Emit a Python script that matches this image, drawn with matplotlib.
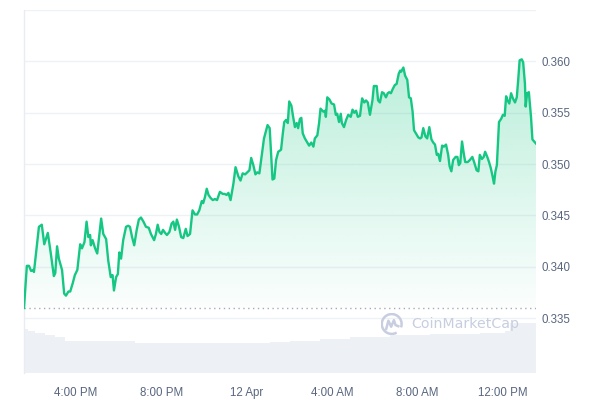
import matplotlib
matplotlib.use('Agg')
import matplotlib.pyplot as plt
import numpy as np
from matplotlib.colors import LinearSegmentedColormap
from matplotlib.patches import Polygon, Arc

plt.rcParams['font.family'] = ['Liberation Sans', 'DejaVu Sans']

# minutes after 13:34 on 11 Apr (24h window)
minutes = [0, 8, 14, 20, 26, 28, 34, 42, 50, 57,
           67, 75, 84, 88, 93, 98, 107, 113, 118, 125,
           130, 137, 143, 150, 158, 163, 170, 176, 181, 186,
           188, 193, 200, 206, 217, 223, 231, 237, 244, 249,
           253, 259, 264, 268, 273, 279, 287, 293, 298, 304,
           310, 317, 323, 329, 336, 343, 351, 357, 366, 371,
           376, 381, 386, 391, 397, 402, 409, 415, 420, 425,
           430, 436, 442, 448, 455, 460, 467, 474, 481, 487,
           493, 500, 504, 509, 514, 519, 525, 531, 537, 543,
           548, 551, 559, 564, 570, 575, 581, 589, 595, 603,
           609, 615, 622, 628, 634, 639, 645, 651, 656, 662,
           669, 675, 681, 685, 691, 696, 699, 704, 709, 715,
           723, 728, 732, 737, 742, 746, 752, 757, 762, 767,
           771, 776, 780, 784, 790, 797, 802, 808, 814, 818,
           825, 830, 834, 842, 847, 849, 853, 859, 865, 872,
           877, 881, 886, 891, 894, 900, 906, 912, 919, 924,
           929, 934, 939, 945, 951, 957, 962, 967, 973, 980,
           984, 992, 996, 1001, 1007, 1012, 1018, 1023, 1027, 1032,
           1037, 1043, 1048, 1054, 1058, 1061, 1067, 1072, 1078, 1083,
           1088, 1093, 1097, 1102, 1109, 1114, 1118, 1123, 1129, 1134,
           1140, 1146, 1151, 1156, 1161, 1165, 1170, 1176, 1181, 1187,
           1193, 1197, 1202, 1207, 1214, 1219, 1223, 1227, 1232, 1237,
           1241, 1248, 1254, 1261, 1266, 1273, 1278, 1282, 1288, 1293,
           1297, 1303, 1308, 1313, 1318, 1322, 1326, 1330, 1336, 1342,
           1347, 1352, 1356, 1360, 1365, 1370, 1375, 1381, 1386, 1390,
           1394, 1400, 1404, 1409, 1411, 1415, 1420, 1426, 1430, 1440]

prices = [0.3360, 0.3401, 0.3401, 0.3396, 0.3397, 0.3395, 0.3414, 0.3439, 0.3441, 0.3422,
          0.3433, 0.3414, 0.3391, 0.3394, 0.3420, 0.3408, 0.3397, 0.3374, 0.3372, 0.3376,
          0.3376, 0.3384, 0.3392, 0.3397, 0.3422, 0.3418, 0.3424, 0.3444, 0.3429, 0.3431,
          0.3421, 0.3426, 0.3418, 0.3413, 0.3447, 0.3432, 0.3427, 0.3406, 0.3390, 0.3392,
          0.3377, 0.3390, 0.3393, 0.3414, 0.3408, 0.3426, 0.3439, 0.3440, 0.3439, 0.3429,
          0.3421, 0.3436, 0.3446, 0.3448, 0.3444, 0.3439, 0.3438, 0.3432, 0.3426, 0.3432,
          0.3441, 0.3434, 0.3432, 0.3436, 0.3433, 0.3431, 0.3434, 0.3442, 0.3444, 0.3436,
          0.3446, 0.3439, 0.3429, 0.3428, 0.3437, 0.3430, 0.3432, 0.3455, 0.3451, 0.3451,
          0.3455, 0.3464, 0.3462, 0.3468, 0.3476, 0.3470, 0.3467, 0.3465, 0.3466, 0.3465,
          0.3470, 0.3473, 0.3471, 0.3471, 0.3470, 0.3472, 0.3465, 0.3481, 0.3497, 0.3488,
          0.3484, 0.3491, 0.3490, 0.3492, 0.3494, 0.3506, 0.3499, 0.3490, 0.3492, 0.3491,
          0.3509, 0.3525, 0.3533, 0.3538, 0.3535, 0.3504, 0.3485, 0.3486, 0.3504, 0.3512,
          0.3514, 0.3530, 0.3541, 0.3543, 0.3540, 0.3561, 0.3557, 0.3546, 0.3536, 0.3540,
          0.3535, 0.3544, 0.3545, 0.3530, 0.3525, 0.3521, 0.3518, 0.3521, 0.3517, 0.3525,
          0.3528, 0.3540, 0.3554, 0.3551, 0.3552, 0.3546, 0.3565, 0.3563, 0.3559, 0.3558,
          0.3548, 0.3549, 0.3541, 0.3549, 0.3540, 0.3536, 0.3543, 0.3548, 0.3546, 0.3553,
          0.3550, 0.3552, 0.3546, 0.3547, 0.3564, 0.3560, 0.3562, 0.3560, 0.3548, 0.3562,
          0.3576, 0.3576, 0.3562, 0.3560, 0.3570, 0.3569, 0.3565, 0.3569, 0.3570, 0.3569,
          0.3573, 0.3577, 0.3578, 0.3588, 0.3591, 0.3590, 0.3594, 0.3586, 0.3582, 0.3565,
          0.3564, 0.3551, 0.3533, 0.3530, 0.3526, 0.3525, 0.3526, 0.3535, 0.3527, 0.3525,
          0.3536, 0.3524, 0.3521, 0.3519, 0.3509, 0.3510, 0.3503, 0.3518, 0.3517, 0.3519,
          0.3509, 0.3498, 0.3493, 0.3504, 0.3507, 0.3507, 0.3499, 0.3501, 0.3522, 0.3510,
          0.3502, 0.3502, 0.3504, 0.3507, 0.3502, 0.3494, 0.3493, 0.3509, 0.3505, 0.3507,
          0.3512, 0.3507, 0.3502, 0.3496, 0.3488, 0.3481, 0.3493, 0.3499, 0.3541, 0.3544,
          0.3548, 0.3547, 0.3566, 0.3562, 0.3559, 0.3569, 0.3564, 0.3560, 0.3565, 0.3582,
          0.3601, 0.3602, 0.3599, 0.3578, 0.3556, 0.3569, 0.3570, 0.3546, 0.3524, 0.3520]

# 24h volume (millions)
vol_minutes = [0, 11, 31, 59, 87, 115, 158, 214, 312, 439, 636, 692,
               748, 833, 917, 1029, 1142, 1283, 1353, 1367, 1440]
volumes = [11.0, 10.5, 9.8, 9.4, 8.8, 8.0, 7.8, 7.8, 7.5, 7.4, 7.4, 7.6,
           8.0, 8.4, 8.9, 9.4, 9.6, 10.0, 10.3, 12.5, 12.5]

tick_minutes = [146, 386, 626, 866, 1106, 1346]
tick_labels = ['4:00 PM', '8:00 PM', '12 Apr', '4:00 AM', '8:00 AM', '12:00 PM']
price_ticks = [0.335, 0.340, 0.345, 0.350, 0.355, 0.360]
open_price = prices[0]

GREEN = '#16c784'
LABEL = '#58667e'
GRID = '#eff2f5'

fig = plt.figure(figsize=(6, 4), dpi=100)
rect = [0.04, 0.0683, 0.8533, 0.9067]

# volume underneath
axv = fig.add_axes(rect)
axv.fill_between(vol_minutes, volumes, step='post', color='#edf0f4', lw=0)
axv.set_xlim(0, 1440)
axv.set_ylim(0, 90.7)
axv.axis('off')

ax = fig.add_axes(rect)
ax.patch.set_alpha(0)

for g in price_ticks + [0.365]:
    ax.axhline(g, color=GRID, lw=1, zorder=0)

ax.axhline(open_price, color='#a5acb9', lw=1, ls=(0, (1, 2.5)), zorder=1)

# gradient fill under the line
cmap = LinearSegmentedColormap.from_list(
    'fade', [(22/255, 199/255, 132/255, 0.0), (22/255, 199/255, 132/255, 0.3)])
grad = np.linspace(0, 1, 256).reshape(-1, 1)
im = ax.imshow(grad, extent=[0, 1440, 0.3345, 0.3605], origin='lower',
               aspect='auto', cmap=cmap, zorder=2)
poly = Polygon(np.column_stack([[minutes[0]] + minutes + [minutes[-1]],
                                [open_price] + prices + [open_price]]),
               closed=True, transform=ax.transData, fc='none', ec='none')
ax.add_patch(poly)
im.set_clip_path(poly)

ax.plot(minutes, prices, color=GREEN, lw=1.7, zorder=3, solid_joinstyle='round')

ax.set_xlim(0, 1440)
ax.set_ylim(0.3297, 0.365)
ax.set_xticks(tick_minutes, tick_labels)
ax.set_yticks(price_ticks, ['%.3f' % p for p in price_ticks])
ax.yaxis.tick_right()
ax.tick_params(length=0, colors=LABEL, labelsize=8.3)
ax.tick_params(axis='x', pad=10)
ax.tick_params(axis='y', pad=4)
for s in ['top', 'right', 'bottom']:
    ax.spines[s].set_visible(False)
ax.spines['left'].set_color('#e9ecf0')
ax.spines['left'].set_linewidth(1)

# watermark
wm = '#c8cedf'
fig.text(411.7/600, 1 - 324/400, 'CoinMarketCap', fontsize=10.2, color=wm,
         va='center', ha='left', family='DejaVu Sans', zorder=5)
axl = fig.add_axes([380.7/600, 1 - 335/400, 22/600, 22/400])
axl.set_xlim(-1, 1)
axl.set_ylim(-1, 1)
axl.axis('off')
axl.add_patch(Arc((0, 0), 1.8, 1.8, theta1=-20, theta2=300, color=wm, lw=1.8))
axl.plot([-0.5, -0.3, -0.05, 0.2, 0.35, 0.6], [-0.45, 0.3, -0.25, 0.35, -0.1, -0.2],
         color=wm, lw=1.8, solid_joinstyle='round')

fig.savefig('out.png', dpi=100)
